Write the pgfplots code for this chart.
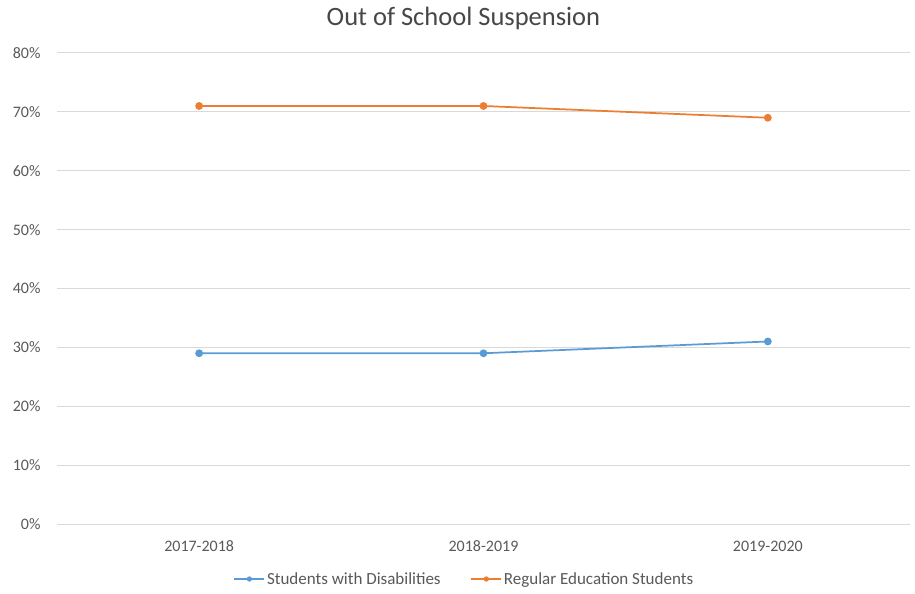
\documentclass[border=0pt]{standalone}
\usepackage{fontspec}
\setmainfont{Carlito}
\usepackage{pgfplots}
\pgfplotsset{compat=1.18}
\definecolor{swd}{HTML}{5B9BD5}
\definecolor{reg}{HTML}{ED7D31}
\definecolor{gridgray}{HTML}{D9D9D9}
\definecolor{txt}{HTML}{595959}
\begin{document}
\begin{tikzpicture}
\path[use as bounding box] (-57bp,-70bp) rectangle (858bp,524bp);
\begin{axis}[
    at={(0,0)}, anchor=south west,
    scale only axis,
    width=853bp, height=471bp,
    xmin=-0.5, xmax=2.5,
    ymin=0, ymax=80,
    xtick={0,1,2},
    xticklabels={2017-2018,2018-2019,2019-2020},
    ytick={0,10,...,80},
    yticklabel={\pgfmathprintnumber{\tick}\%},
    /pgf/number format/assume math mode=true,
    axis line style={draw=none},
    major tick length=0pt,
    ymajorgrids=true,
    grid style={gridgray, line width=1pt},
    ticklabel style={font=\fontsize{16bp}{19bp}\selectfont, text=txt},
    yticklabel style={anchor=east, xshift=-13bp},
    xticklabel style={anchor=center, yshift=-22bp},
    title={Out of School Suspension},
    title style={font=\fontsize{26.5bp}{30bp}\selectfont, text=txt!80!black, at={(0.5,1)}, anchor=center, xshift=-20bp, yshift=29bp},
    legend style={at={(0.5,0)}, anchor=center, xshift=-19bp, yshift=-55bp, draw=none,
        font=\fontsize{17bp}{19bp}\selectfont, text=txt,
        legend columns=2, /tikz/every even column/.append style={column sep=28bp}},
    legend image code/.code={
        \draw[#1, line width=1.25pt, mark size=2pt, mark repeat=2, mark phase=2] plot coordinates {(0bp,0bp) (15bp,0bp) (30bp,0bp)};
    },
]
\addplot[color=swd, line width=1.75pt, mark=*, mark size=3pt]
    coordinates {(0,29) (1,29) (2,31)};
\addlegendentry{Students with Disabilities}
\addplot[color=reg, line width=1.75pt, mark=*, mark size=3pt]
    coordinates {(0,71) (1,71) (2,69)};
\addlegendentry{Regular Education Students}
\end{axis}
\end{tikzpicture}
\end{document}
